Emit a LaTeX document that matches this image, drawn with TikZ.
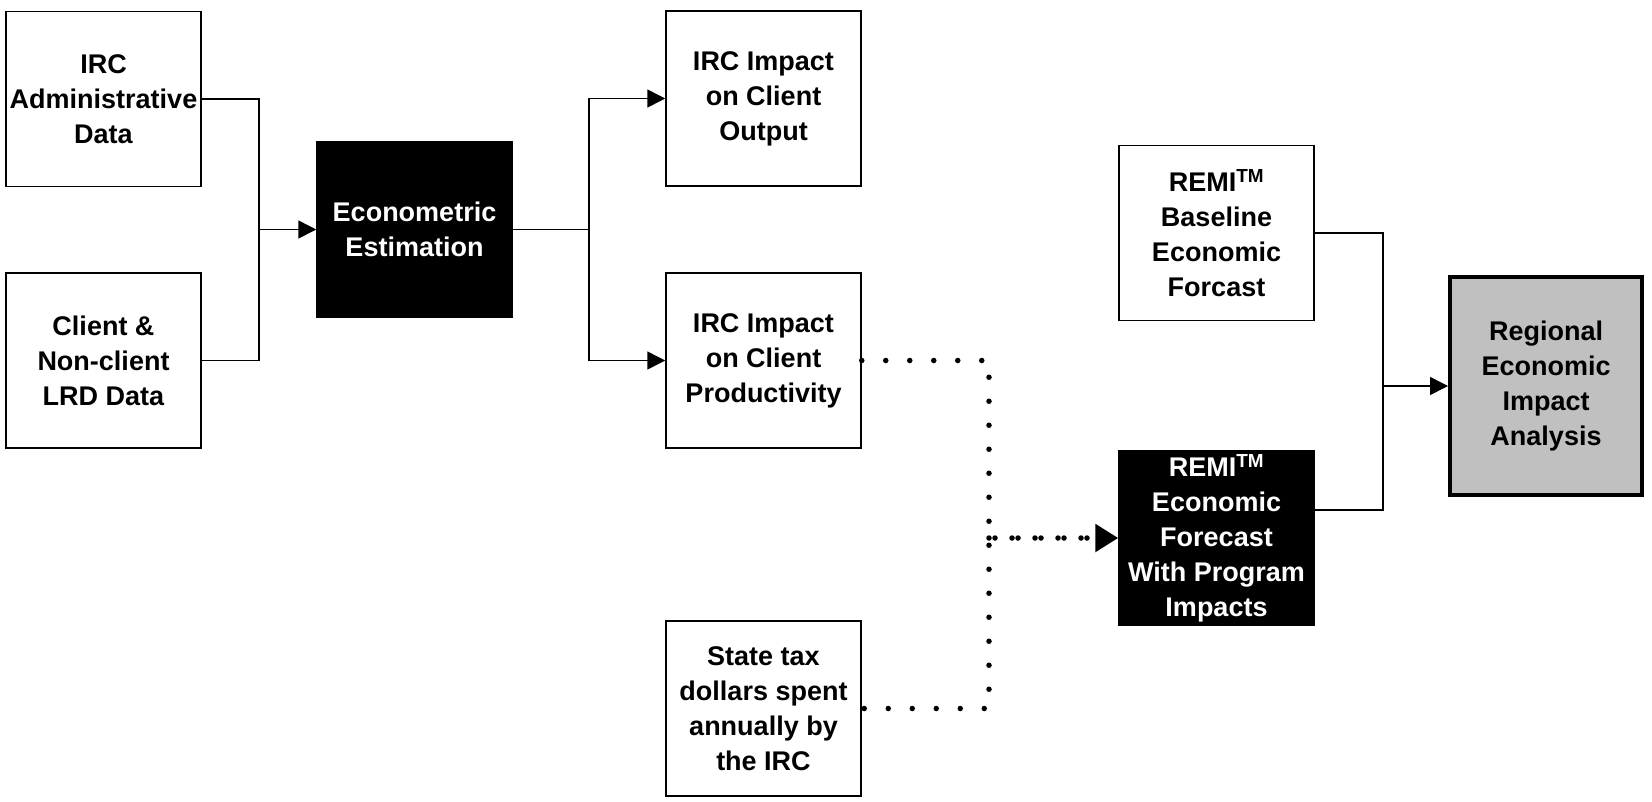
\documentclass[tikz,border=0pt]{standalone}
\usepackage{fontspec}
\setmainfont{Liberation Sans}
\usetikzlibrary{arrows.meta}

\begin{document}
\begin{tikzpicture}[x=1pt, y=-1pt, >={Triangle[length=18pt,width=18pt]},
		font=\fontsize{27}{35}\selectfont\bfseries,
		box/.style={draw, line width=1.5pt, minimum width=195pt, minimum height=175pt, inner sep=0pt, align=center},
		darkbox/.style={box, fill=black, text=white},
		resultbox/.style={box, line width=4pt, fill={rgb,255:red,192;green,192;blue,192}, minimum width=192pt, minimum height=218pt},
		link/.style={line width=1.5pt},
		dotline/.style={line width=5.5pt, line cap=round, dash pattern=on 0pt off 24pt},
		dotarrow/.style={line width=5.5pt, line cap=round, dash pattern=on 0pt off 6pt on 0pt off 17pt, -{Triangle[length=23pt,width=27pt]}}]
		\useasboundingbox (0,0) rectangle (1652,801);
		% data and estimation
		\node[box] (admin) at (103.5,99) {IRC\\Administrative\\Data};
		\node[box] (client) at (103.5,360.5) {Client \&\\Non-client\\LRD Data};
		\node[darkbox] (econ) at (414.5,229.5) {Econometric\\Estimation};
		\coordinate (jin) at (259,0);
		\draw[link] (admin.east) -| (jin |- client.east) -- (client.east);
		\draw[link,->] (jin |- econ.west) -- (econ.west);
		% impacts
		\node[box] (output) at (763.5,98.5) {IRC Impact\\on Client\\Output};
		\node[box] (prod) at (763.5,360.5) {IRC Impact\\on Client\\Productivity};
		\node[box] (tax) at (763.5,708.5) {State tax\\dollars spent\\annually by\\the IRC};
		\coordinate (jout) at (589,0);
		\draw[link] (econ.east) -- (jout |- econ.east);
		\draw[link,->] (jout |- econ.east) |- (output.west);
		\draw[link,->] (jout |- econ.east) |- (prod.west);
		% REMI forecasts
		\node[box] (baseline) at (1216.5,233) {REMI\textsuperscript{TM}\\Baseline\\Economic\\Forcast};
		\node[darkbox] (program) at (1216.5,538) {REMI\textsuperscript{TM}\\Economic\\Forecast\\With Program\\Impacts};
		\node[resultbox] (regional) at (1546,386) {Regional\\Economic\\Impact\\Analysis};
		\coordinate (dv) at (989,0);
		\draw[dotline] (prod.east) -| (dv |- tax.east) -- (tax.east);
		\draw[dotarrow] (dv |- program.west) -- (program.west);
		\coordinate (jremi) at (1383,0);
		\coordinate (pout) at ([yshift=28pt]program.east);
		\draw[link] (baseline.east) -| (pout -| jremi) -- (pout);
		\draw[link,->] (jremi |- regional.west) -- (regional.west);
	\end{tikzpicture}
\end{document}
